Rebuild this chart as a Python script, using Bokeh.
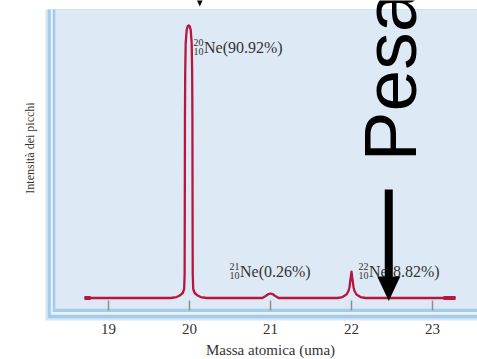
import math
from bokeh.plotting import figure
from bokeh.core.properties import value
from bokeh.embed import file_html
from bokeh.resources import INLINE

# ---------------- data ----------------
tick_values = [19, 20, 21, 22, 23]
tick_labels = ["19", "20", "21", "22", "23"]

# mass-spectrum trace of neon: mass (uma) vs peak intensity
mass = [18.704, 18.78,
        19.768, 19.842, 19.879, 19.916, 19.934, 19.940, 19.942, 19.944, 19.947, 19.953, 19.965, 19.978, 19.99,
        20.002, 20.015, 20.027, 20.033, 20.036, 20.038, 20.040, 20.046, 20.064, 20.101, 20.138, 20.212,
        20.90, 20.95, 20.975, 21.0, 21.025, 21.05, 21.10,
        21.827, 21.889, 21.938, 21.963, 21.975, 21.984, 21.994, 22.0, 22.006, 22.016, 22.025, 22.037, 22.062, 22.111, 22.173,
        23.136, 23.284]
intensity = [0, 0,
             0, 0.33, 0.83, 1.67, 3.0, 8.0, 30, 60, 75, 85, 89.4, 90.7, 90.92,
             90.7, 89.4, 85, 75, 60, 30, 8.0, 3.0, 1.67, 0.83, 0.33, 0,
             0, 0.83, 1.33, 1.5, 1.33, 0.83, 0,
             0, 0.33, 1.17, 2.34, 3.6, 5.5, 7.5, 8.82, 7.5, 5.5, 3.6, 2.34, 1.17, 0.33, 0,
             0, 0]

iso_A = ["20", "21", "22"]
iso_Z = ["10", "10", "10"]
iso_text = ["Ne(90.92%)", "Ne(0.26%)", "Ne(8.82%)"]

x_title = "Massa atomica (uma)"
y_title = "Intensità dei picchi"
big_word = "Pesa"
arrow_mass = 22.46

# ---------------- layout helpers (image pixels -> data) ----------------
PX_X = 81.0
PX_Y = 272.5 / 90.92
W, H = 477, 359
BASE_FIX = 0.37  # renderer places the alphabetic baseline this many em lower


def dx(ix):
    return 20 + (ix - 189) / PX_X


def dy(iy):
    return (297.5 - iy) / PX_Y


RED = "#b8163f"
TXT = "#333333"
SERIF = "Liberation Serif"

p = figure(width=W, height=H,
           x_range=(dx(0), dx(W)), y_range=(dy(H), dy(0)),
           output_backend="svg", toolbar_location=None,
           x_axis_location=None, y_axis_location=None,
           min_border=0, min_border_left=0, min_border_right=0,
           min_border_top=0, min_border_bottom=0)
p.grid.visible = False
p.outline_line_color = None
p.background_fill_color = "white"
p.border_fill_color = "white"

# panel with striped left/bottom border
layers = [(45, 320, "#d3e6f5"), (47.3, 317.7, "#a6cbe8"), (50.3, 314.3, "#e6f1fa"),
          (52.3, 311.5, "#a6cbe8"), (54.8, 308.3, "#dde9f5")]
for lx, by, c in layers:
    p.quad(left=[dx(lx)], right=[dx(W + 5)], bottom=[dy(by)], top=[dy(9)],
           fill_color=c, line_color=None)

# tick marks and tick labels
n = len(tick_values)
p.segment(x0=tick_values, y0=[dy(300)] * n, x1=tick_values, y1=[dy(310)] * n,
          line_color="#8f8f8f", line_width=1.5)
p.text(x=tick_values, y=[dy(334 - BASE_FIX * 15)] * n, text=tick_labels,
       text_font=value(SERIF), text_font_size="15px", text_color=TXT,
       text_align="center", text_baseline="alphabetic")

# spectrum
p.line(mass, intensity, line_color=RED, line_width=2.3, line_join="round")
p.segment(x0=[mass[0], mass[-2]], y0=[intensity[0], intensity[-2]],
          x1=[mass[1], mass[-1]], y1=[intensity[1], intensity[-1]],
          line_color=RED, line_width=4)

# isotope labels
main_x = [dx(203.5), dx(239.5), dx(368.5)]
main_b = [53, 277, 276.5]
p.text(x=main_x, y=[dy(b - BASE_FIX * 16) for b in main_b], text=iso_text,
       text_font=value(SERIF), text_font_size="16px", text_color=TXT,
       text_align="left", text_baseline="alphabetic")
dig_x = [x - 0.6 / PX_X for x in main_x]
p.text(x=dig_x, y=[dy(b - 7 - BASE_FIX * 10) for b in main_b], text=iso_A,
       text_font=value(SERIF), text_font_size="10px", text_color=TXT,
       text_align="right", text_baseline="alphabetic")
p.text(x=dig_x, y=[dy(b + 2 - BASE_FIX * 10) for b in main_b], text=iso_Z,
       text_font=value(SERIF), text_font_size="10px", text_color=TXT,
       text_align="right", text_baseline="alphabetic")

# axis titles
p.text(x=[dx(270)], y=[dy(355 - BASE_FIX * 15)], text=[x_title],
       text_font=value(SERIF), text_font_size="15px", text_color=TXT,
       text_align="center", text_baseline="alphabetic")
p.text(x=[dx(34 - BASE_FIX * 12)], y=[dy(147.5)], text=[y_title], angle=math.pi / 2,
       text_font=value(SERIF), text_font_size="12px", text_color=TXT,
       text_align="center", text_baseline="alphabetic")

# black arrow
ax_px = 189 + (arrow_mass - 20) * PX_X
p.quad(left=[dx(ax_px - 4)], right=[dx(ax_px + 4)], top=[dy(189)], bottom=[dy(277)],
       fill_color="black", line_color=None)
p.patch([dx(ax_px - 11.5), dx(ax_px + 11.5), dx(ax_px)], [dy(276), dy(276), dy(300.5)],
        fill_color="black", line_color=None)

# tip of an arrow at the top edge
p.patch([dx(196), dx(202.5), dx(199.3)], [dy(-1), dy(-1), dy(6)],
        fill_color="black", line_color=None)

# big rotated word
p.text(x=[dx(417 - BASE_FIX * 75)], y=[dy(161)], text=[big_word], angle=math.pi / 2,
       text_font=value("Liberation Sans"), text_font_size="75px", text_color="black",
       text_align="left", text_baseline="alphabetic")

open("out.html", "w").write(file_html(p, INLINE))
